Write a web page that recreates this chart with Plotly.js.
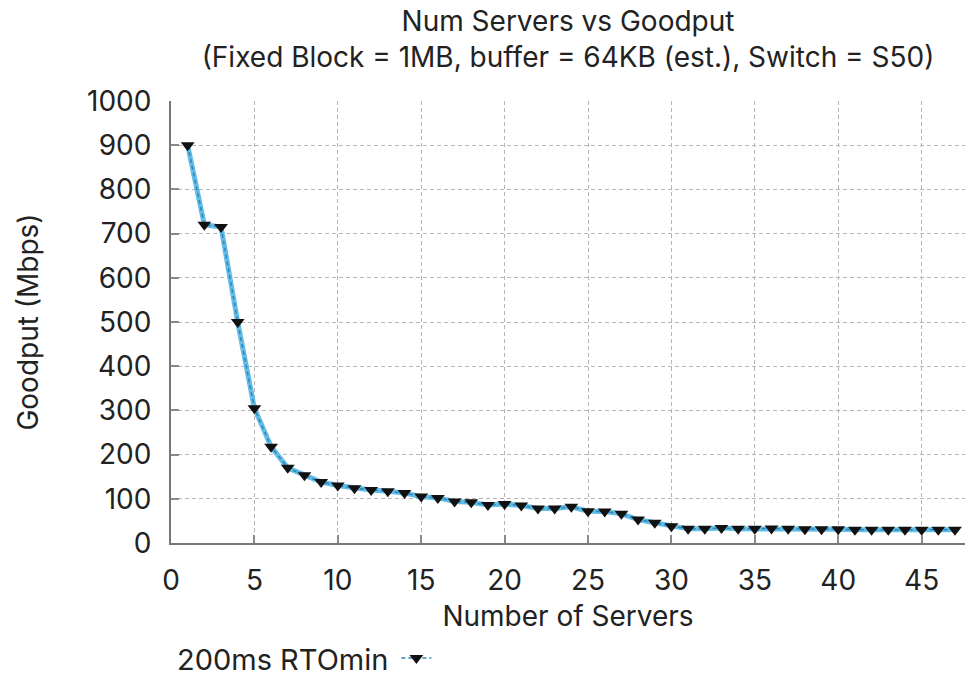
<!DOCTYPE html>
<html>
<head>
<meta charset="utf-8">
<script src="https://cdn.plot.ly/plotly-3.0.1.min.js"></script>
<style>html,body{margin:0;padding:0;background:#fff;}#chart{width:966px;height:680px;}</style>
</head>
<body>
<div id="chart"></div>
<script>
const chartTitle = 'Num Servers vs Goodput<br>(Fixed Block = 1MB, buffer = 64KB (est.), Switch = S50)';
const xTitle = 'Number of Servers';
const yTitle = 'Goodput (Mbps)';
const seriesName = '200ms RTOmin';
const servers = [1,2,3,4,5,6,7,8,9,10,11,12,13,14,15,16,17,18,19,20,21,22,23,24,25,26,27,28,29,30,31,32,33,34,35,36,37,38,39,40,41,42,43,44,45,46,47];
const goodput = [900,720,715,500,305,218,170,153,138,130,124,120,117,113,105,102,94,92,86,88,85,78,78,82,72,71,66,53,46,38,32,32,34,32,32,33,32,31,31,31,30,30,30,30,30,30,30];

const lineTrace = {
  x: servers, y: goodput, type: 'scatter', mode: 'lines',
  line: {color: '#63bde6', width: 5}, showlegend: false, hoverinfo: 'skip'
};
const mainTrace = {
  x: servers, y: goodput, type: 'scatter', mode: 'lines+markers',
  name: '',
  line: {color: '#2f86b8', width: 1.5, dash: '4px,3px'},
  marker: {symbol: 'triangle-down', color: '#111', size: 12}
};

const FONT = 'Inter, Liberation Sans, Arial, sans-serif';
const tickFont = {family: FONT, size: 28, color: '#222'};

const layout = {
  width: 966, height: 680,
  margin: {l: 171, r: 1, t: 101, b: 137},
  paper_bgcolor: '#fff', plot_bgcolor: '#fff',
  font: {family: FONT, color: '#222'},
  title: {text: chartTitle, font: {family: FONT, size: 28, color: '#222'}, x: 0.5, xref: 'paper', y: 0.955, yref: 'container', yanchor: 'bottom'},
  xaxis: {
    range: [0, 47.6], dtick: 5, tick0: 0, automargin: false,
    showline: true, linecolor: '#777', linewidth: 2,
    ticks: 'inside', ticklen: 8, tickwidth: 2, tickcolor: '#888',
    showgrid: true, gridcolor: '#b5b5b5', gridwidth: 1, griddash: '4px,3px',
    zeroline: false, tickfont: tickFont, ticklabelstandoff: 11,
    title: {text: xTitle, font: {family: FONT, size: 28, color: '#222'}, standoff: 21}
  },
  yaxis: {
    range: [0, 1000], dtick: 100, tick0: 0, automargin: false,
    showline: true, linecolor: '#777', linewidth: 2,
    ticks: 'inside', ticklen: 8, tickwidth: 2, tickcolor: '#888',
    showgrid: true, gridcolor: '#b5b5b5', gridwidth: 1, griddash: '4px,3px',
    zeroline: false, tickfont: tickFont, ticklabelstandoff: 12,
    title: {text: yTitle, font: {family: FONT, size: 28, color: '#222'}, standoff: 40}
  },
  showlegend: true,
  legend: {
    orientation: 'h', x: 0.005, xanchor: 'left', y: 0.032, yref: 'container', yanchor: 'middle',
    font: {family: FONT, size: 29, color: '#222'},
    title: {text: seriesName, side: 'left', font: {family: FONT, size: 29, color: '#222'}},
    bgcolor: 'rgba(0,0,0,0)'
  }
};

Plotly.newPlot('chart', [lineTrace, mainTrace], layout, {displayModeBar: false, staticPlot: true});
</script>
</body>
</html>
